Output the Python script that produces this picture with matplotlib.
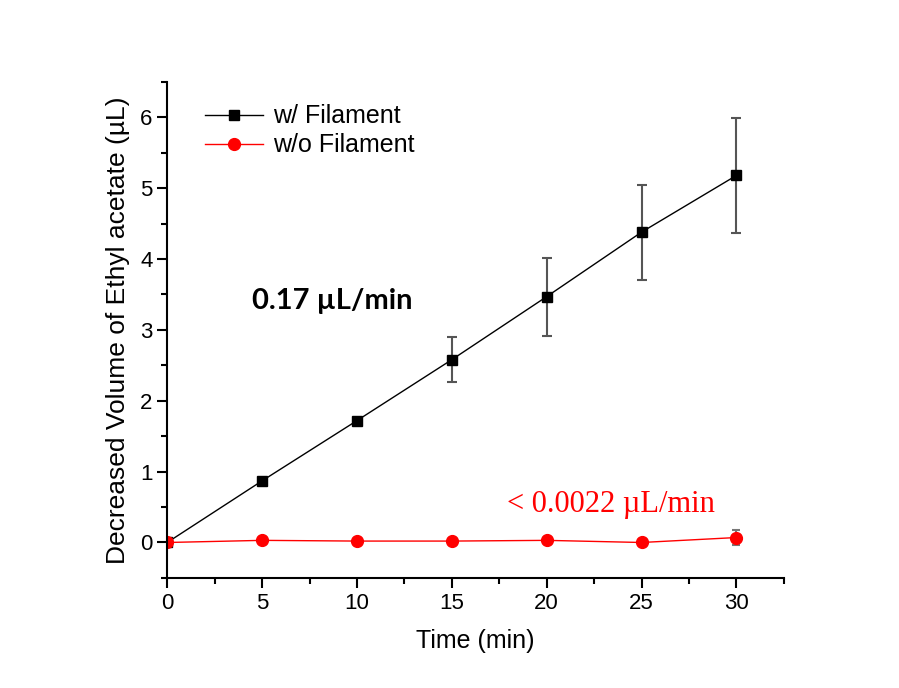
import matplotlib
matplotlib.use('Agg')
import matplotlib.pyplot as plt
from matplotlib.ticker import MultipleLocator

plt.rcParams['font.family'] = ['Liberation Sans', 'DejaVu Sans']

# time points (min)
time = [0, 5, 10, 15, 20, 25, 30]

# decreased volume with filament and its error
with_fil = [0.0, 0.87, 1.72, 2.58, 3.47, 4.38, 5.18]
with_err = [0.0, 0.0, 0.0, 0.32, 0.55, 0.67, 0.81]

# decreased volume without filament and its error
without_fil = [0.0, 0.03, 0.02, 0.02, 0.03, 0.0, 0.07]
without_err = [0.0, 0.0, 0.0, 0.0, 0.0, 0.0, 0.1]

fig = plt.figure(figsize=(8.99, 6.88), dpi=100)
ax = fig.add_axes([0.186, 0.16, 0.686, 0.721])

# error bars first, then the lines with markers on top
ax.errorbar(time, with_fil, yerr=with_err, fmt='none', ecolor='#555555',
            elinewidth=1.5, capsize=3.5, capthick=1.5)
ax.errorbar(time, without_fil, yerr=without_err, fmt='none', ecolor='#777777',
            elinewidth=1.5, capsize=3, capthick=1.5)
ax.plot(time, with_fil, color='black', marker='s', markersize=7, linewidth=1,
        label='w/ Filament')
ax.plot(time, without_fil, color='red', marker='o', markersize=8.5, linewidth=1,
        label='w/o Filament')

ax.set_xlim(0, 32.5)
ax.set_ylim(-0.5, 6.5)
ax.xaxis.set_major_locator(MultipleLocator(5))
ax.xaxis.set_minor_locator(MultipleLocator(2.5))
ax.yaxis.set_major_locator(MultipleLocator(1))
ax.yaxis.set_minor_locator(MultipleLocator(0.5))

ax.spines['top'].set_visible(False)
ax.spines['right'].set_visible(False)
ax.spines['left'].set_linewidth(1.5)
ax.spines['bottom'].set_linewidth(1.5)
ax.tick_params(which='major', length=7, width=1.5, labelsize=16, direction='out')
ax.tick_params(which='minor', length=4, width=1.5, direction='out')

ax.set_xlabel('Time (min)', fontsize=18, labelpad=11)
ax.set_ylabel('Decreased Volume of Ethyl acetate (\u00b5L)', fontsize=19, labelpad=7)

ax.legend(loc='upper left', bbox_to_anchor=(0.025, 1.0), frameon=False, fontsize=18,
          handlelength=2.3, handletextpad=0.4, labelspacing=0.2)

ax.text(4.45, 3.3, '0.17 \u00b5L/min', fontsize=21, fontweight='bold',
        family=['Lato', 'DejaVu Sans'])
ax.text(17.9, 0.43, '< 0.0022 \u00b5L/min', fontsize=22, color='red',
        family=['Liberation Serif', 'DejaVu Serif'])

fig.savefig('out.png', dpi=100)
